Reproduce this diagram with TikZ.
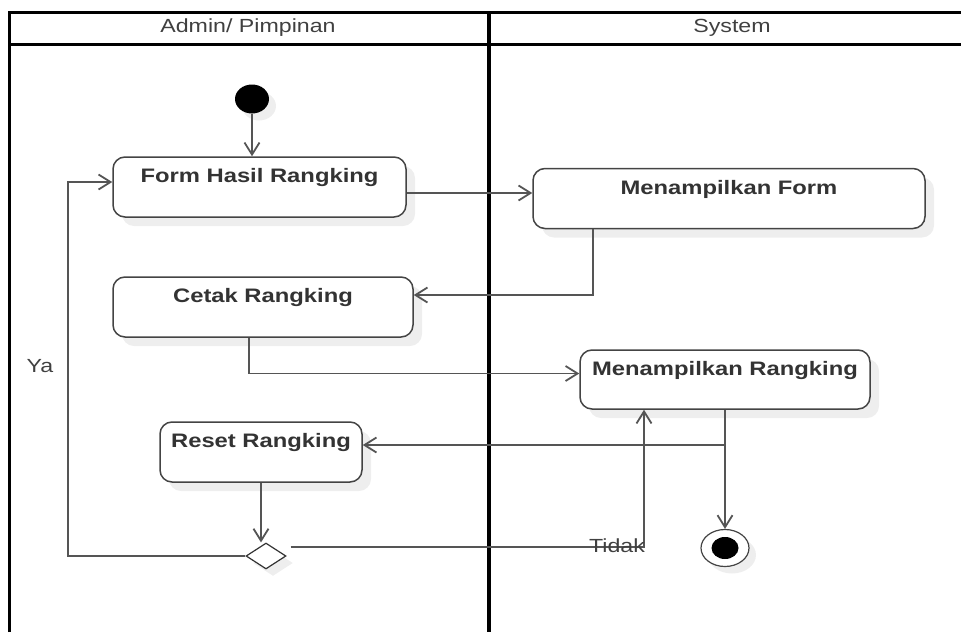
\documentclass[tikz,border=0pt]{standalone}
\usepackage{fontspec}
\setmainfont{Liberation Sans}[FakeStretch=1.22]
\usetikzlibrary{arrows.meta,shapes.geometric,shadows}
\definecolor{lanegray}{HTML}{444444}
\definecolor{linegray}{HTML}{555555}
\definecolor{shadowgray}{HTML}{EEEEEE}

\begin{document}
\begin{tikzpicture}[x=1pt,y=-1pt,
	act/.style={draw=lanegray,line width=1.5pt,rounded corners=12pt,fill=white,
		inner sep=0pt,text height=25.5pt,text depth=34.5pt,text=black!80,
		font=\fontsize{19.5}{22}\selectfont\bfseries,
		drop shadow={shadow xshift=9pt,shadow yshift=-9pt,fill=shadowgray,opacity=1}},
	flow/.style={draw=linegray,line width=1.8pt,-{Straight Barb[length=12pt,width=15pt]}},
	txt/.style={font=\fontsize{19}{22}\selectfont,text=black!75,inner sep=0pt}]
	\useasboundingbox (0,0) rectangle (961,632);
	% swimlanes
	\draw[line width=3pt] (9,632)--(9,12)--(961,12);
	\draw[line width=3pt] (9,44)--(961,44);
	\draw[line width=4pt] (489,12)--(489,632);
	\node[txt] (lane1) at (248,28) {Admin/ Pimpinan};
	\node[txt] (lane2) at (732,28) {System};
	% start and end
	\node[ellipse,fill=black,minimum width=34pt,minimum height=29pt,inner sep=0pt,
		drop shadow={shadow xshift=7pt,shadow yshift=-7pt,fill=shadowgray,opacity=1}] (init) at (252,99) {};
	\node[ellipse,draw=lanegray,line width=1.2pt,fill=white,minimum width=48pt,minimum height=37pt,inner sep=0pt,
		drop shadow={shadow xshift=7pt,shadow yshift=-7pt,fill=shadowgray,opacity=1}] (final) at (725,548) {};
	\fill (final) ellipse (13.5pt and 11pt);
	% activities
	\node[act,minimum width=293pt] (form) at (259.5,187) {Form Hasil Rangking};
	\node[act,minimum width=392pt] (mform) at (729,198.5) {Menampilkan Form};
	\node[act,minimum width=300pt] (cetak) at (263,307) {Cetak Rangking};
	\node[act,minimum width=290pt,text depth=33.5pt] (mrank) at (725,379.5) {Menampilkan Rangking};
	\node[act,minimum width=202pt] (reset) at (261,452) {Reset Rangking};
	\node[diamond,draw=black!80,line width=1.2pt,fill=white,minimum width=40pt,minimum height=26pt,inner sep=0pt,
		drop shadow={shadow xshift=7pt,shadow yshift=-7pt,fill=shadowgray,opacity=1}] (dec) at (266,556) {};
	% flows
	\draw[flow] (init) -- (init |- form.north);
	\draw[flow] ([yshift=-6pt]form.east) -- ([yshift=-6pt]form.east -| mform.west);
	\draw[flow] ([xshift=-136pt]mform.south) |- ([yshift=12pt]cetak.east);
	\draw[flow] ([xshift=-14pt]cetak.south) |- ([yshift=6pt]mrank.west);
	\draw[flow] (mrank.south) |- ([yshift=7pt]reset.east);
	\draw[flow] (mrank.south) -- (final.north);
	\draw[flow] (reset.south) -- (reset.south |- dec.north);
	\draw[flow] (dec.west) -| ([xshift=-44pt,yshift=5pt]form.west) -- ([yshift=5pt]form.west);
	\draw[flow] ([yshift=9pt,xshift=4pt]dec.east) -| ([xshift=-81pt]mrank.south);
	\node[txt] (ya) at (40,366) {Ya};
	\node[txt] (tidak) at (617,546) {Tidak};
\end{tikzpicture}
\end{document}
